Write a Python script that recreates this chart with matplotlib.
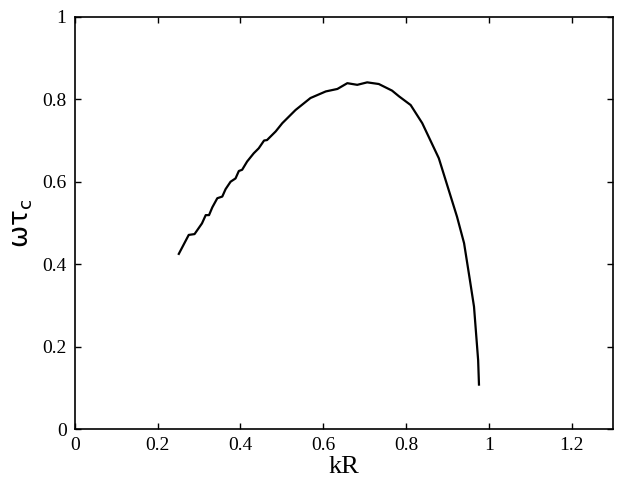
import matplotlib
matplotlib.use("Agg")
import matplotlib.pyplot as plt

kR = [0.251, 0.275, 0.289, 0.307, 0.316, 0.324, 0.332, 0.344, 0.356, 0.364,
      0.376, 0.388, 0.396, 0.404, 0.416, 0.432, 0.444, 0.457, 0.464, 0.485,
      0.501, 0.517, 0.533, 0.569, 0.606, 0.634, 0.658, 0.682, 0.706, 0.734,
      0.766, 0.783, 0.811, 0.839, 0.879, 0.923, 0.940, 0.954, 0.964, 0.969,
      0.974, 0.976]
omega_tau = [0.425, 0.471, 0.473, 0.499, 0.519, 0.519, 0.538, 0.560, 0.564, 0.582,
             0.600, 0.608, 0.626, 0.629, 0.649, 0.669, 0.681, 0.700, 0.701, 0.722,
             0.742, 0.758, 0.774, 0.803, 0.819, 0.825, 0.839, 0.835, 0.841, 0.837,
             0.821, 0.807, 0.786, 0.742, 0.657, 0.515, 0.451, 0.362, 0.297, 0.232,
             0.167, 0.108]

xticks = [0, 0.2, 0.4, 0.6, 0.8, 1, 1.2]
xticklabels = ["0", "0.2", "0.4", "0.6", "0.8", "1", "1.2"]
yticks = [0, 0.2, 0.4, 0.6, 0.8, 1]
yticklabels = ["0", "0.2", "0.4", "0.6", "0.8", "1"]

plt.rcParams['font.family'] = ['Liberation Serif', 'DejaVu Serif']

fig = plt.figure(figsize=(6.4, 4.8), dpi=100)
ax = fig.add_axes([0.117, 0.106, 0.841, 0.859])
ax.plot(kR, omega_tau, color='black', linewidth=1.6)
ax.set_xlim(0, 1.3)
ax.set_ylim(0, 1)
ax.set_xticks(xticks)
ax.set_xticklabels(xticklabels)
ax.set_yticks(yticks)
ax.set_yticklabels(yticklabels)
ax.tick_params(direction='in', length=4.5, width=1, top=True, right=True,
               labelsize=14, pad=6)
for s in ax.spines.values():
    s.set_linewidth(1.2)
ax.set_xlabel('kR', fontsize=19, labelpad=1)
ax.set_ylabel('ωτ$_\\mathregular{c}$', fontsize=19, family=['DejaVu Sans'], labelpad=5)
fig.savefig('out.png', dpi=100)
